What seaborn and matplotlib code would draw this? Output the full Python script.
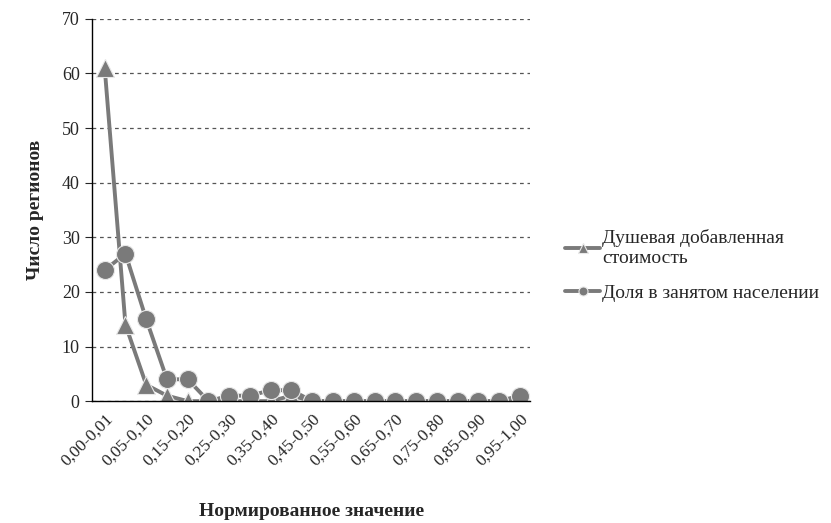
import pandas as pd
import matplotlib
matplotlib.use("Agg")
import matplotlib.pyplot as plt
import seaborn as sns

categories = ["0,00-0,01", "0,01-0,05", "0,05-0,10", "0,10-0,15", "0,15-0,20",
              "0,20-0,25", "0,25-0,30", "0,30-0,35", "0,35-0,40", "0,40-0,45",
              "0,45-0,50", "0,50-0,55", "0,55-0,60", "0,60-0,65", "0,65-0,70",
              "0,70-0,75", "0,75-0,80", "0,80-0,85", "0,85-0,90", "0,90-0,95",
              "0,95-1,00"]
value_added = [61, 14, 3, 1, 0, 0, 0, 0, 0, 1, 0, 0, 0, 0, 0, 0, 0, 0, 0, 0, 0]
employment = [24, 27, 15, 4, 4, 0, 1, 1, 2, 2, 0, 0, 0, 0, 0, 0, 0, 0, 0, 0, 1]

df = pd.DataFrame({"pos": range(len(categories)), "cat": categories,
                   "va": value_added, "emp": employment})

sns.set_style("white")
plt.rcParams["font.family"] = ["Liberation Serif", "DejaVu Serif"]

fig = plt.figure(figsize=(8.31, 5.23), dpi=100)
ax = fig.add_axes([0.111, 0.233, 0.527, 0.731])

gray = "#7a7a7a"
sns.lineplot(data=df, x="pos", y="va", ax=ax, color=gray, linewidth=2.8,
             marker="^", markersize=13, markeredgecolor="#e8e8e8", markeredgewidth=0.8,
             label="Душевая добавленная\nстоимость", sort=False)
sns.lineplot(data=df, x="pos", y="emp", ax=ax, color=gray, linewidth=2.8,
             marker="o", markersize=13, markeredgecolor="#e8e8e8", markeredgewidth=0.8,
             label="Доля в занятом населении", sort=False)

ax.set_ylim(0, 70)
ax.set_yticks(range(0, 71, 10))
ax.set_xlim(-0.6, 20.5)
ax.set_xticks(df["pos"][::2])
ax.set_xticklabels(df["cat"][::2], rotation=45, ha="right", rotation_mode="anchor", fontsize=12.5)
ax.tick_params(axis="y", labelsize=13, length=5, direction="out", left=True, pad=4)
ax.tick_params(axis="x", length=0, pad=7)
ax.yaxis.grid(True, linestyle=(0, (3, 3)), color="#555555", linewidth=0.9)
ax.set_axisbelow(True)
sns.despine(ax=ax, top=True, right=True)
for s in ["left", "bottom"]:
    ax.spines[s].set_color("black")
    ax.spines[s].set_linewidth(1)

ax.set_ylabel("Число регионов", fontsize=14, fontweight="bold", labelpad=13)
ax.set_xlabel("Нормированное значение", fontsize=14, fontweight="bold", labelpad=24)

leg = ax.legend(loc="center left", bbox_to_anchor=(1.04, 0.355), frameon=False,
                fontsize=14, handlelength=1.8, handletextpad=0.1, labelspacing=0.9,
                markerscale=0.5)

fig.savefig("out.png", dpi=100)
